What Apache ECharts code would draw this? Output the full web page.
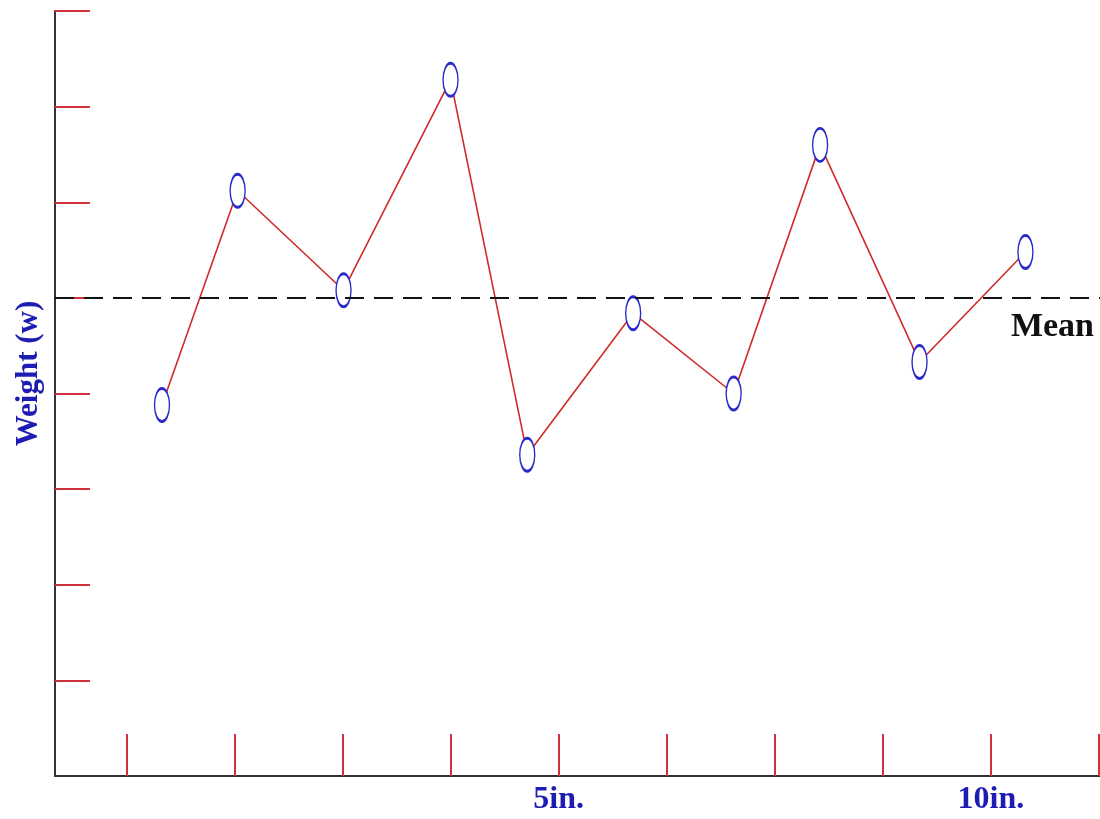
<!DOCTYPE html>
<html>
<head>
<meta charset="utf-8">
<title>Weight chart</title>
<script src="https://cdn.jsdelivr.net/npm/echarts@6/dist/echarts.min.js"></script>
<style>
  html, body { margin: 0; padding: 0; background: #fff; }
  #chart { width: 1100px; height: 819px; }
</style>
</head>
<body>
<div id="chart"></div>
<script>
// readings (x in tick units, y in tick units)
const sampleX = [1.33, 2.03, 3.01, 4.0, 4.71, 5.69, 6.62, 7.42, 8.34, 9.32];
const weights = [3.88, 6.12, 5.08, 7.28, 3.36, 4.84, 4.0, 6.6, 4.33, 5.48];
const meanValue = 5;

const xTickValues = [1, 2, 3, 4, 5, 6, 7, 8, 9, 10];
const xLabelValues = [5, 9];
const xLabelTexts = ['5in.', '10in.'];
const yTickValues = [1, 2, 3, 4, 5, 6, 7, 8];

const serif = '"Liberation Serif", "DejaVu Serif", serif';
const tickRed = '#d2303c';
const labelBlue = '#1d1db4';

// ellipse outline as a path, stretched to symbolSize
const ellipse = 'path://M0,-1 C0.552,-1 1,-0.552 1,0 C1,0.552 0.552,1 0,1 C-0.552,1 -1,0.552 -1,0 C-1,-0.552 -0.552,-1 0,-1 Z';

const chart = echarts.init(document.getElementById('chart'));

const option = {
  backgroundColor: '#ffffff',
  animation: false,
  grid: { left: 55, right: 0, top: 11, bottom: 43, containLabel: false, outerBoundsMode: 'none' },
  xAxis: {
    type: 'value',
    min: 0.34,
    max: 10.01,
    axisLine: { show: true, onZero: false, lineStyle: { color: '#333', width: 2 } },
    axisTick: {
      show: true,
      inside: true,
      length: 42,
      customValues: xTickValues,
      lineStyle: { color: tickRed, width: 2 },
    },
    axisLabel: {
      show: true,
      customValues: xLabelValues,
      margin: 8,
      color: labelBlue,
      fontFamily: serif,
      fontWeight: 'bold',
      fontSize: 32,
      formatter: (v) => xLabelTexts[xLabelValues.indexOf(v)] || '',
    },
    splitLine: { show: false },
  },
  yAxis: {
    type: 'value',
    min: 0,
    max: 8,
    name: 'Weight (w)',
    nameLocation: 'middle',
    nameRotate: 90,
    nameGap: 11,
    nameTextStyle: {
      color: labelBlue,
      fontFamily: serif,
      fontWeight: 'bold',
      fontSize: 31,
      padding: [0, 0, 0, 40],
    },
    axisLine: { show: true, onZero: false, lineStyle: { color: '#333', width: 2 } },
    axisTick: {
      show: true,
      inside: true,
      length: 35,
      customValues: yTickValues,
      lineStyle: { color: tickRed, width: 2 },
    },
    axisLabel: { show: false },
    splitLine: { show: false },
  },
  series: [
    {
      type: 'line',
      data: sampleX.map((x, i) => [x, weights[i]]),
      symbol: ellipse,
      symbolSize: [15, 33],
      showSymbol: true,
      lineStyle: { color: '#d02a2a', width: 1.6 },
      itemStyle: { color: '#ffffff', borderColor: '#2a2ac8', borderWidth: 2 },
      z: 3,
      markLine: {
        silent: true,
        symbol: ['none', 'none'],
        lineStyle: { color: '#111', width: 2, type: [19, 10] },
        label: {
          show: true,
          position: 'insideEndBottom',
          distance: 6,
          padding: [6, 0, 0, 0],
          formatter: 'Mean',
          color: '#111',
          fontFamily: serif,
          fontWeight: 'bold',
          fontSize: 34,
        },
        data: [{ yAxis: meanValue }],
      },
    },
  ],
};

chart.setOption(option);
</script>
</body>
</html>
